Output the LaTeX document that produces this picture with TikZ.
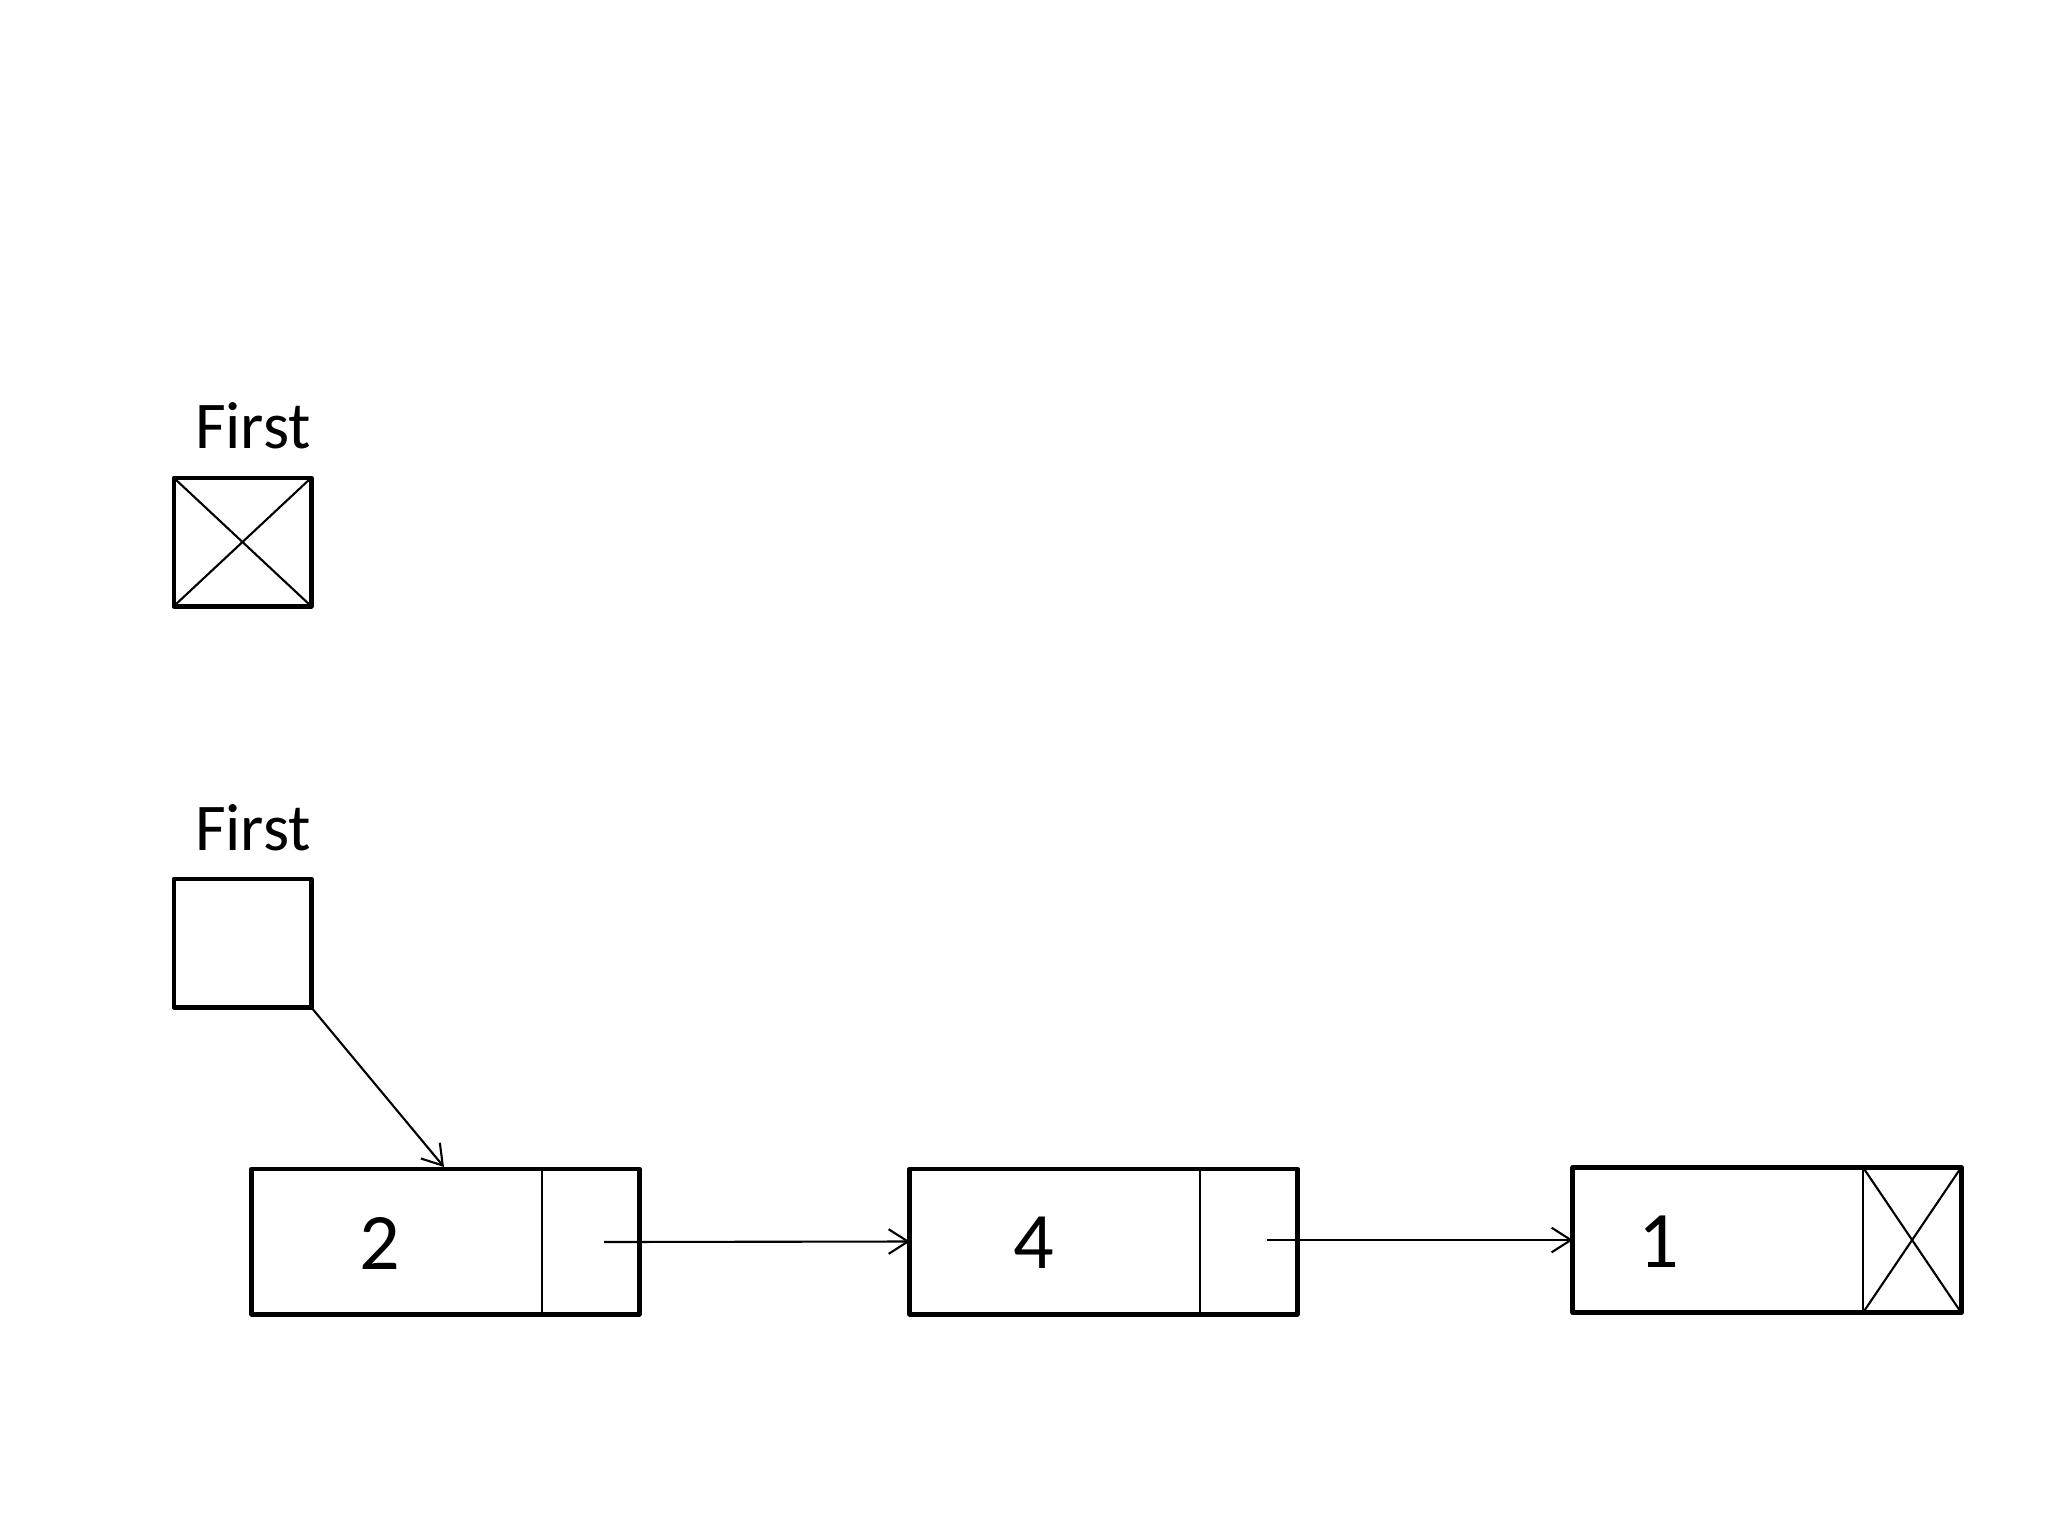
\documentclass[tikz,border=0pt]{standalone}
\usepackage{fontspec}
\setmainfont{Carlito}
\usepackage{tikz}
\usetikzlibrary{positioning,arrows.meta}

\begin{document}
\begin{tikzpicture}[x=0.01cm, y=-0.01cm,
    every node/.style={inner sep=0pt, outer sep=0pt},
    ptrbox/.style={minimum width=1.37cm, minimum height=1.28cm},
    datafield/.style={minimum width=2.90cm, minimum height=1.45cm},
    nextfield/.style={minimum width=0.97cm, minimum height=1.45cm},
    boxline/.style={line width=1.4pt, line join=round},
    thinline/.style={line width=0.6pt},
    link/.style={line width=0.6pt, -{Straight Barb[length=5.5pt,width=7pt,line width=0.6pt]}},
    lbl/.style={font=\fontsize{19}{22}\selectfont, anchor=base},
    val/.style={font=\fontsize{22.8}{26}\selectfont}]
    \useasboundingbox (0,0) rectangle (2048,1536);
    % empty list: First is null
    \node[lbl] (firstA) at (253,448) {First};
    \node[ptrbox] (headA) at (242.5,542) {};
    \draw[boxline] (headA.north west) rectangle (headA.south east);
    \draw[thinline] (headA.north west) -- (headA.south east);
    \draw[thinline] (headA.south west) -- (headA.north east);
    % list with three nodes
    \node[lbl] (firstB) at (253,850) {First};
    \node[ptrbox] (headB) at (242.5,943) {};
    \draw[boxline] (headB.north west) rectangle (headB.south east);
    \node[datafield] (d2) at (397,1241.5) {};
    \node[nextfield, right=0pt of d2] (p2) {};
    \node[datafield] (d4) at (1055,1241.5) {};
    \node[nextfield, right=0pt of d4] (p4) {};
    \node[datafield] (d1) at (1718,1240) {};
    \node[nextfield, minimum width=0.98cm, right=0pt of d1] (p1) {};
    \node[val] (v2) at (380,1243) {2};
    \node[val] (v4) at (1034,1243) {4};
    \node[val] (v1) at (1659,1242) {1};
    \foreach \d/\p in {d2/p2, d4/p4, d1/p1} {
        \draw[boxline] (\d.north west) rectangle (\p.south east);
        \draw[thinline] (\p.north west) -- (\p.south west);
    }
    % null pointer in the last node
    \draw[thinline] (p1.north west) -- (p1.south east);
    \draw[thinline] (p1.south west) -- (p1.north east);
    \coordinate (t2) at (604,1242);
    \coordinate (t4) at (1267,1240);
    \coordinate (h2) at (444,1167);
    \draw[link] (headB.south east) -- (h2);
    \draw[link] (t2) -- (d4.west);
    \draw[link] (t4) -- (d1.west);
\end{tikzpicture}
\end{document}
